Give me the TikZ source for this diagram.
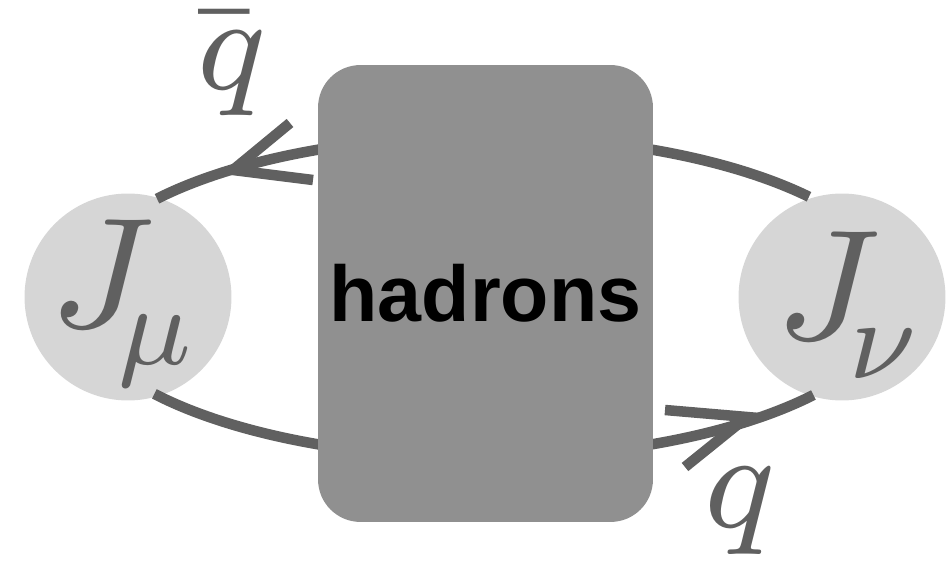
\RequirePackage{fix-cm}
\documentclass[tikz,border=0pt]{standalone}
\usepackage{graphicx}
\usepackage{fontspec}
\newfontfamily\labelsans{Liberation Sans}
\definecolor{linegray}{HTML}{606060}
\definecolor{boxgray}{HTML}{909090}
\definecolor{blobgray}{HTML}{D6D6D6}
\newcommand\bigmath[2]{\scalebox{#1}{\fontsize{8}{8}\selectfont$#2$}}
\begin{document}
\begin{tikzpicture}[x=0.02cm,y=0.02cm,
  quark/.style={draw=linegray, line width=0.21cm},
  blob/.style={circle, fill=blobgray, inner sep=0pt, minimum size=4.14cm},
  hbox/.style={rectangle, rounded corners=0.85cm, fill=boxgray, minimum width=6.7cm, minimum height=9.14cm, inner sep=0pt, font=\labelsans\bfseries\fontsize{45}{45}\selectfont},
  lbl/.style={text=linegray, inner sep=0pt, anchor=base}]
\useasboundingbox (0,0) rectangle (947,561);
\coordinate (c) at (485,264);
\node[blob] (Jmu) at (128,264) {};
\node[blob] (Jnu) at (842,264) {};
\draw[quark] (c) ++(142.4:414 and 161) arc[start angle=142.4, end angle=38.5, x radius=414, y radius=161];
\draw[quark] (c) ++(217:414 and 161) arc[start angle=217, end angle=322.5, x radius=414, y radius=161];
\coordinate (tipL) at (233,391);
\coordinate (tipR) at (747,144);
\draw[quark, line join=miter] (290,438) -- (tipL) -- (313,381);
\draw[quark, line join=miter] (665,151) -- (tipR) -- (685,94);
\node[hbox] (had) at (485.5,267.5) {hadrons};
\node[lbl] (Jl) at (102,233) {\bigmath{11.2}{J}};
\node[lbl] (mul) at (155,196) {\bigmath{8.1}{\mu}};
\node[lbl] (Jr) at (828,221) {\bigmath{11.2}{J}};
\node[lbl] (nur) at (882.5,182) {\bigmath{8.1}{\nu}};
\node[lbl] (qbar) at (228,471) {\bigmath{9.6}{\mkern-1mu\bar{\mkern1mu q\mkern-1mu}}};
\node[lbl] (q) at (739.5,33) {\bigmath{9.9}{q}};
\end{tikzpicture}
\end{document}
